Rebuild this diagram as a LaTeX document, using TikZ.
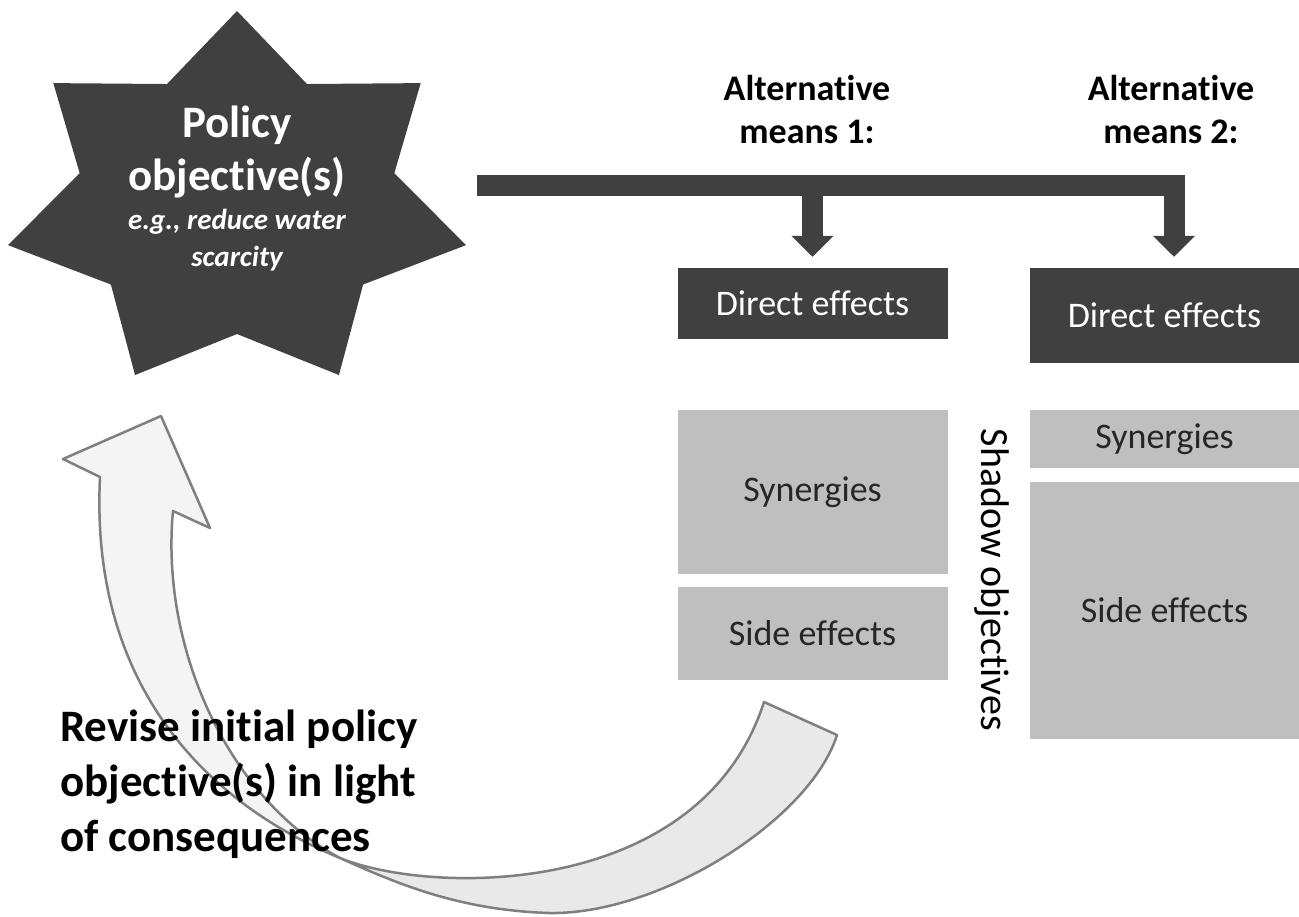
\documentclass[tikz,border=0pt]{standalone}
\usepackage{fontspec}
\setmainfont{Carlito}[Ligatures=NoCommon]
\usetikzlibrary{arrows.meta}

\definecolor{darkfill}{HTML}{404040}
\definecolor{lightfill}{HTML}{BFBFBF}
\definecolor{ribbonA}{HTML}{F4F4F4}
\definecolor{ribbonB}{HTML}{E9E9E9}
\definecolor{ribbonline}{HTML}{7F7F7F}

\tikzset{
  darkbox/.style={fill=darkfill, text=white, minimum width=270pt, inner sep=0pt,
    font=\fontsize{36}{44}\selectfont},
  greybox/.style={fill=lightfill, text=black!85, minimum width=270pt, inner sep=0pt,
    font=\fontsize{36}{44}\selectfont},
  forkline/.style={draw=darkfill, line width=21pt,
    -{Triangle[width=41pt,length=21pt]}, shorten >=11pt},
  ribbon/.style={draw=ribbonline, line width=2.5pt, line join=round},
}

\begin{document}
\begin{tikzpicture}[x=1pt, y=-1pt]
  \useasboundingbox (0,0) rectangle (1299,916);
  \fill[white] (0,0) rectangle (1299,916);

  % seven-pointed star, a bit wider than tall
  \fill[darkfill] plot[samples at={0,...,13}, variable=\k]
    ({237 + 1.227*(mod(\k,2)==0 ? 191.5 : 131.5)*cos(90+\k*360/14)},
     {202.5 - (mod(\k,2)==0 ? 191.5 : 131.5)*sin(90+\k*360/14)}) -- cycle;
  % base anchor sits on the last line
  \node[font=\bfseries\fontsize{45}{53}\selectfont, text=white, align=center,
    anchor=base, inner sep=0pt] (policy) at (237,190) {Policy\\objective(s)};
  \node[font=\bfseries\itshape\fontsize{29}{37}\selectfont, text=white, align=center,
    anchor=base, inner sep=0pt] (example) at (237,266) {e.g., reduce water\\scarcity};

  \node[font=\bfseries\fontsize{36}{43}\selectfont, align=center, anchor=base,
    inner sep=0pt] (alt1) at (807,143) {Alternative\\means 1:};
  \node[font=\bfseries\fontsize{36}{43}\selectfont, align=center, anchor=base,
    inner sep=0pt] (alt2) at (1171,143) {Alternative\\means 2:};

  \foreach \name/\kind/\x/\y/\h/\txt in {
      direct1/darkbox/812.5/303.5/71/Direct effects,
      direct2/darkbox/1164.5/315.5/95/Direct effects,
      syn1/greybox/812.5/492/164/Synergies,
      side1/greybox/812.5/633.5/93/Side effects,
      syn2/greybox/1164.5/439/58/Synergies,
      side2/greybox/1164.5/610.5/257/Side effects}{
    \node[\kind, minimum height=\h pt] (\name) at (\x,\y) {\txt};
  }

  \node[rotate=-90, font=\fontsize{40}{48}\selectfont] (shadow) at (992,580)
    {Shadow objectives};

  % the two means branch off one bar
  \coordinate (fork) at (477,185.5);
  \draw[forkline] (fork) -| (direct1);
  \draw[forkline] (fork) -| ([xshift=9.5pt]direct2.north);

  % twisted ribbon arrow back to the objective
  \coordinate (twist) at (340,858);
  \filldraw[ribbon, fill=ribbonB] (twist) .. controls (430,895) and (700,900) .. (764,702)
    -- (837,735) .. controls (810,820) and (660,915) .. (549,913)
    .. controls (460,910) and (400,885) .. (twist) -- cycle;
  \filldraw[ribbon, fill=ribbonA] (twist) .. controls (200,800) and (90,680) .. (100,477)
    -- (63,459) -- (161,416) -- (210,528) -- (173,511)
    .. controls (160,650) and (230,800) .. (twist) -- cycle;

  \node[font=\bfseries\fontsize{45}{55}\selectfont, align=left, anchor=base west,
    inner sep=0pt] (revise) at (60,851)
    {Revise initial policy\\objective(s) in light\\of consequences};
\end{tikzpicture}
\end{document}
